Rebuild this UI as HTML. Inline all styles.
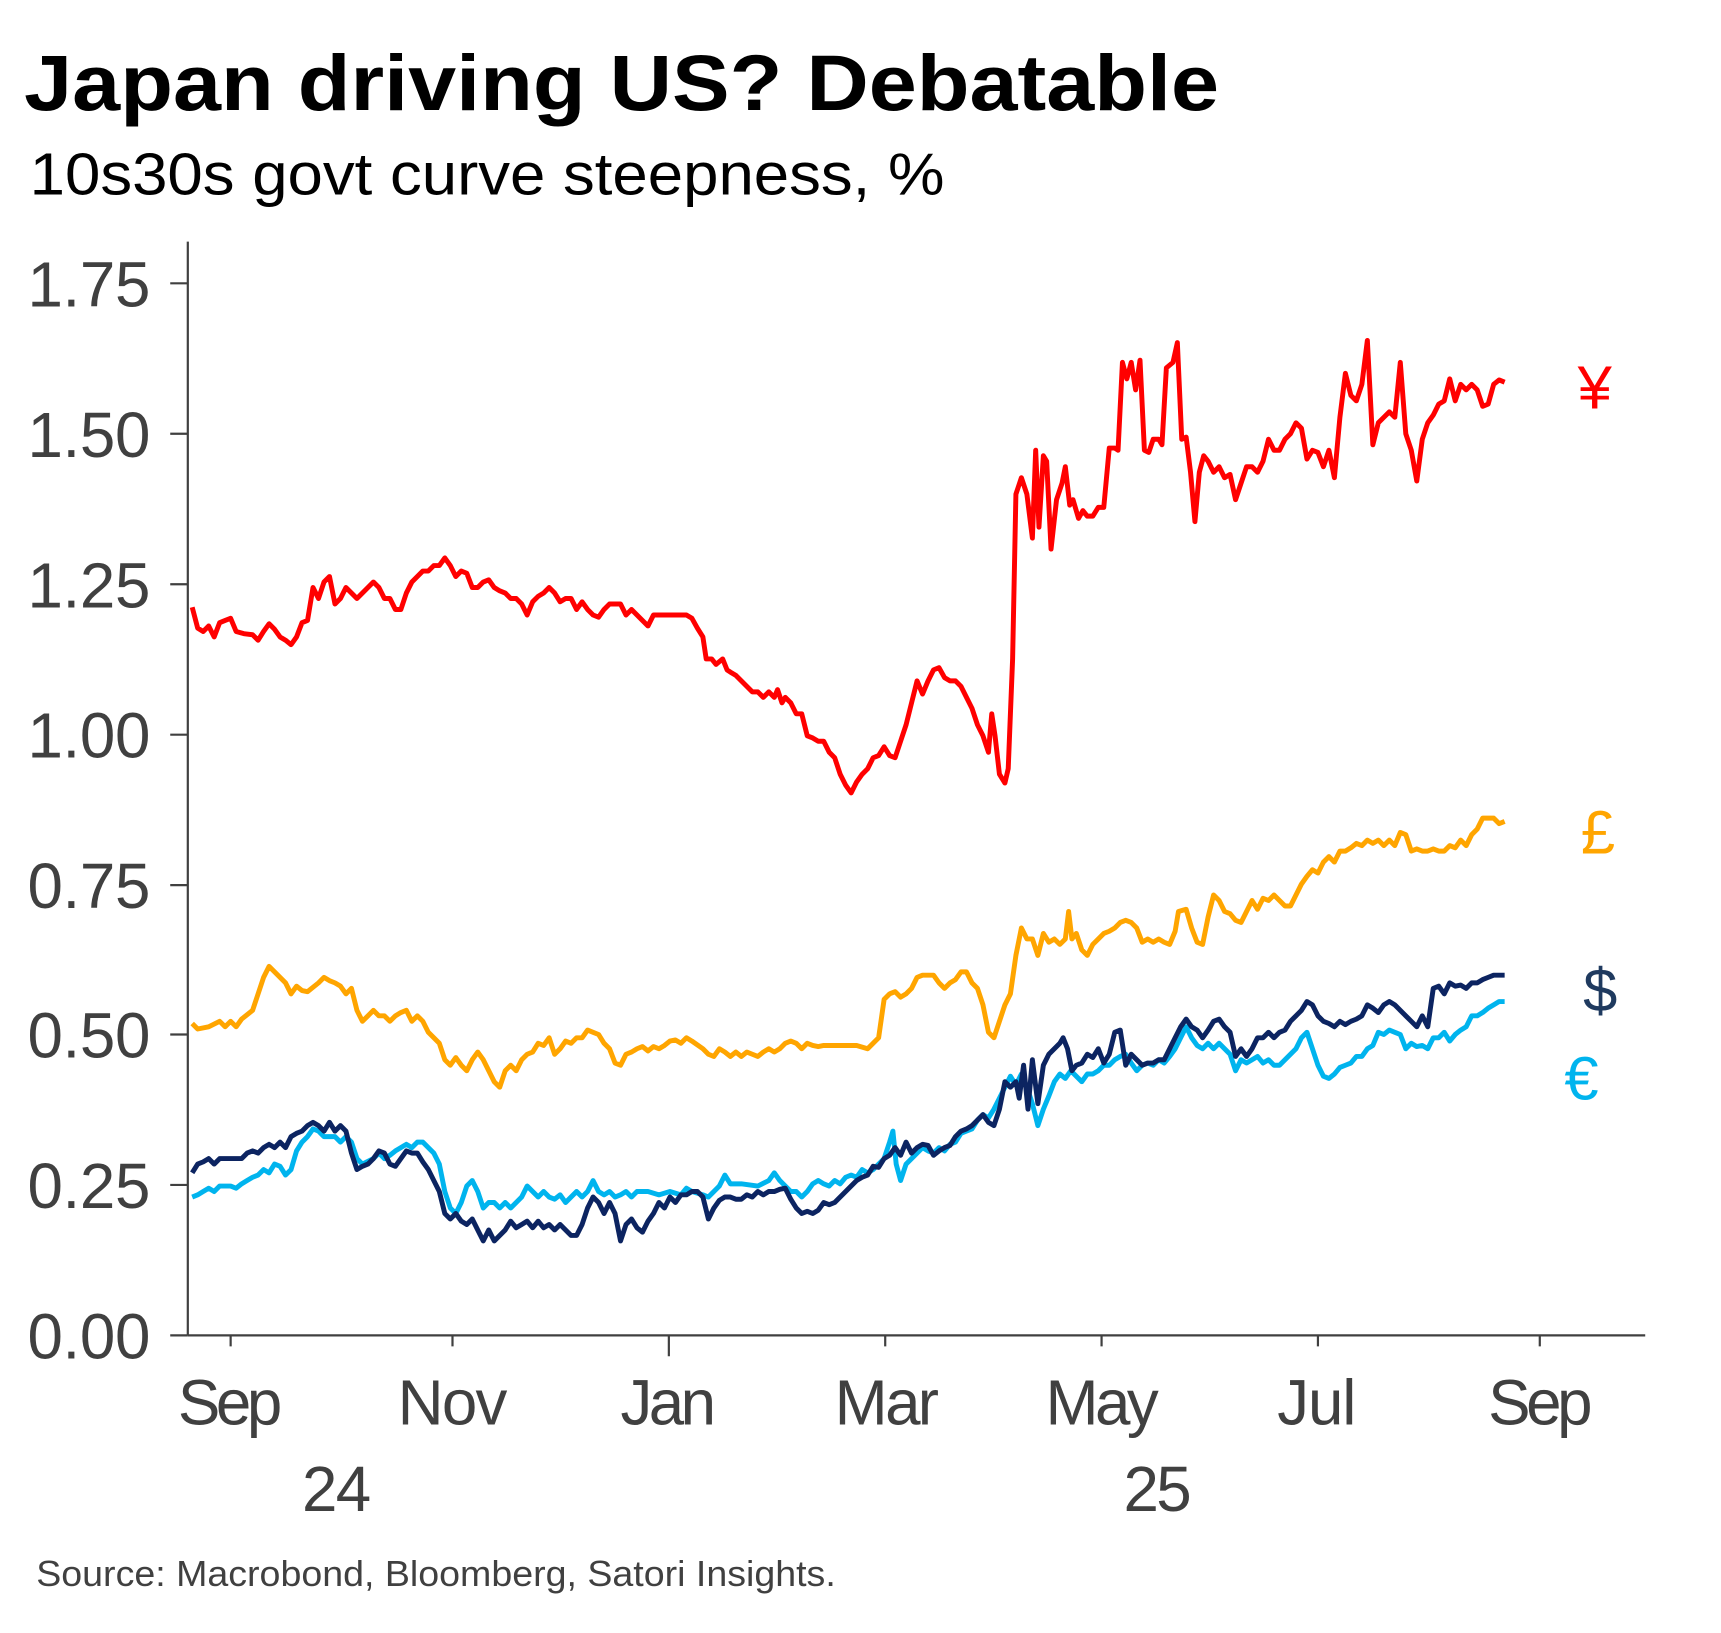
<!DOCTYPE html>
<html><head><meta charset="utf-8"><style>html,body{margin:0;padding:0;background:#fff}svg{display:block}</style></head><body>
<svg width="1721" height="1633" viewBox="0 0 1567 1487" preserveAspectRatio="none" xmlns="http://www.w3.org/2000/svg" font-family="Liberation Sans, DejaVu Sans, sans-serif">
<rect width="1567" height="1487" fill="#fff"/>
<text x="22" y="100" font-size="72" font-weight="bold" fill="#000" textLength="1088" lengthAdjust="spacingAndGlyphs">Japan driving US? Debatable</text>
<text x="27" y="177" font-size="54" fill="#000" textLength="833" lengthAdjust="spacingAndGlyphs">10s30s govt curve steepness, %</text>
<g stroke="#404040" stroke-width="2" fill="none">
<line x1="171" y1="220" x2="171" y2="1216"/>
<line x1="171" y1="1216" x2="1498" y2="1216"/>
<line x1="155" y1="258" x2="171" y2="258"/><line x1="155" y1="395" x2="171" y2="395"/><line x1="155" y1="532" x2="171" y2="532"/><line x1="155" y1="669" x2="171" y2="669"/><line x1="155" y1="806" x2="171" y2="806"/><line x1="155" y1="942" x2="171" y2="942"/><line x1="155" y1="1079" x2="171" y2="1079"/><line x1="155" y1="1216" x2="171" y2="1216"/>
<line x1="210" y1="1216" x2="210" y2="1226"/><line x1="412" y1="1216" x2="412" y2="1226"/><line x1="609" y1="1216" x2="609" y2="1235"/><line x1="806" y1="1216" x2="806" y2="1226"/><line x1="1003" y1="1216" x2="1003" y2="1226"/><line x1="1200" y1="1216" x2="1200" y2="1226"/><line x1="1402" y1="1216" x2="1402" y2="1226"/>
</g>
<g font-size="58" fill="#404040" lengthAdjust="spacingAndGlyphs">
<text x="25" y="279" textLength="112">1.75</text><text x="25" y="416" textLength="112">1.50</text><text x="25" y="553" textLength="112">1.25</text><text x="25" y="690" textLength="112">1.00</text><text x="25" y="827" textLength="112">0.75</text><text x="25" y="963" textLength="112">0.50</text><text x="25" y="1100" textLength="112">0.25</text><text x="25" y="1237" textLength="112">0.00</text>
<text x="162" y="1297" textLength="95">Sep</text><text x="362" y="1297" textLength="100">Nov</text><text x="565" y="1297" textLength="87">Jan</text><text x="760" y="1297" textLength="95">Mar</text><text x="952" y="1297" textLength="103">May</text><text x="1163" y="1297" textLength="72">Jul</text><text x="1355" y="1297" textLength="95">Sep</text>
<text x="275" y="1376" textLength="63">24</text><text x="1023" y="1376" textLength="62">25</text>
</g>
<text x="33" y="1444" font-size="33" fill="#404040" textLength="728" lengthAdjust="spacingAndGlyphs">Source: Macrobond, Bloomberg, Satori Insights.</text>
<g fill="none" stroke-width="4.5" stroke-linejoin="round">
<polyline stroke="#ff0000" points="175,553 180,572 185,575 190,570 195,580 200,567 205,565 210,563 215,575 222,577 230,578 235,583 240,575 245,568 250,573 255,580 260,583 265,587 270,580 275,567 280,565 285,535 290,545 295,530 300,525 305,550 310,545 315,535 320,540 325,545 330,540 335,535 340,530 345,535 350,545 355,545 360,555 365,555 370,540 375,530 380,525 385,520 390,520 395,515 400,515 405,508 410,515 415,525 420,520 425,522 430,535 435,535 440,530 445,528 450,535 455,538 460,540 465,545 470,545 475,550 480,560 485,548 490,543 495,540 500,535 505,540 510,548 515,545 520,545 525,555 530,548 535,555 540,560 545,562 550,555 555,550 560,550 565,550 570,560 575,555 580,560 585,565 590,570 595,560 600,560 610,560 620,560 625,560 630,563 635,572 640,580 643,600 648,600 652,605 658,600 662,610 665,612 670,615 675,620 680,625 685,630 690,630 695,635 700,630 705,635 708,628 712,640 715,635 720,640 725,650 730,650 735,670 740,672 745,675 750,675 755,685 760,690 765,705 770,715 775,722 780,712 785,705 790,700 795,690 800,688 805,680 810,688 815,690 820,675 825,660 830,640 835,620 840,632 845,620 850,610 855,608 860,617 865,620 870,620 875,625 880,635 885,645 890,660 895,670 900,685 903,650 906,670 910,705 915,713 918,700 922,600 925,450 930,435 935,450 940,490 943,410 946,480 950,415 953,420 957,500 962,455 967,440 970,425 974,460 977,455 982,472 986,465 990,470 995,470 1000,462 1005,462 1010,408 1015,408 1018,410 1022,330 1026,345 1030,330 1034,355 1038,328 1042,410 1046,412 1050,400 1055,400 1058,405 1062,335 1068,330 1072,312 1076,400 1080,398 1084,430 1088,475 1092,430 1096,415 1100,420 1105,430 1110,425 1115,435 1120,432 1125,455 1130,440 1135,425 1140,425 1145,430 1150,420 1155,400 1160,410 1165,410 1170,400 1175,395 1180,385 1185,390 1190,418 1195,410 1200,412 1205,425 1210,410 1215,435 1220,380 1225,340 1230,360 1235,365 1240,350 1245,310 1250,405 1255,385 1260,380 1265,375 1270,380 1275,330 1280,395 1285,410 1290,438 1295,400 1300,385 1305,378 1310,368 1315,365 1320,345 1325,365 1330,350 1335,355 1340,350 1345,355 1350,370 1355,368 1360,350 1365,346 1370,348"/>
<polyline stroke="#ffa500" points="175,932 180,937 190,935 200,930 205,935 210,930 215,935 220,928 230,920 235,905 240,890 245,880 250,885 255,890 260,895 265,905 270,898 275,902 280,903 290,895 295,890 300,893 305,895 310,898 315,905 320,900 325,920 330,930 335,925 340,920 345,925 350,925 355,930 360,925 365,922 370,920 375,930 380,925 385,930 390,940 395,945 400,950 405,965 410,970 415,963 420,970 425,975 430,965 435,958 440,965 445,975 450,985 455,990 460,975 465,970 470,975 475,965 480,960 485,958 490,950 495,952 500,945 505,960 510,955 515,948 520,950 525,945 530,945 535,938 540,940 545,942 550,950 555,955 560,968 565,970 570,960 575,958 580,955 585,953 590,957 595,953 600,955 605,952 610,948 615,947 620,950 625,945 630,948 640,955 645,960 650,962 655,955 660,958 665,962 670,958 675,962 680,958 685,960 690,962 695,958 700,955 705,958 710,955 715,950 720,948 725,950 730,955 735,950 740,952 745,953 750,952 760,952 770,952 780,952 790,955 795,950 800,945 805,910 810,905 815,903 820,908 825,905 830,900 835,890 840,888 845,888 850,888 855,895 860,900 865,895 870,892 875,885 880,885 885,895 890,900 895,915 900,940 905,945 910,930 915,915 920,905 925,870 930,845 935,855 940,855 945,870 950,850 955,858 960,855 965,860 970,855 973,830 976,855 980,850 985,865 990,870 995,860 1000,855 1005,850 1010,848 1015,845 1020,840 1025,838 1030,840 1035,845 1040,858 1045,855 1050,858 1055,855 1060,858 1065,860 1070,848 1073,830 1080,828 1085,845 1090,858 1095,860 1100,835 1105,815 1110,820 1115,830 1120,832 1125,838 1130,840 1135,830 1140,820 1145,828 1150,818 1155,820 1160,815 1165,820 1170,825 1175,825 1180,815 1185,805 1190,798 1195,792 1200,795 1205,785 1210,780 1215,785 1220,775 1225,775 1230,772 1235,768 1240,770 1245,765 1250,768 1255,765 1260,770 1265,765 1270,770 1275,758 1280,760 1285,775 1290,773 1295,775 1300,775 1305,773 1310,775 1315,775 1320,770 1325,772 1330,765 1335,770 1340,760 1345,755 1350,745 1355,745 1360,745 1365,750 1370,748"/>
<polyline stroke="#00b4ee" points="175,1090 180,1088 185,1085 190,1082 195,1085 200,1080 210,1080 215,1082 220,1078 225,1075 230,1072 235,1070 240,1065 245,1068 250,1060 255,1062 260,1070 265,1065 270,1048 275,1040 280,1035 285,1028 290,1030 295,1035 300,1035 305,1035 310,1040 315,1035 320,1040 325,1055 330,1060 340,1055 345,1050 350,1055 355,1052 360,1048 365,1045 370,1042 375,1045 380,1040 385,1040 390,1045 395,1050 400,1060 405,1085 410,1100 415,1105 420,1095 425,1080 430,1075 435,1085 440,1100 445,1095 450,1095 455,1100 460,1095 465,1100 470,1095 475,1090 480,1080 485,1085 490,1090 495,1085 500,1090 505,1092 510,1088 515,1095 520,1090 525,1085 530,1090 535,1085 540,1075 545,1085 550,1088 555,1085 560,1090 565,1088 570,1085 575,1090 580,1085 590,1085 600,1088 610,1085 620,1088 625,1082 630,1085 640,1088 645,1090 650,1085 655,1080 660,1070 665,1078 675,1078 690,1080 700,1075 705,1068 710,1075 715,1080 720,1085 725,1085 730,1090 735,1085 740,1078 745,1075 750,1078 755,1080 760,1075 765,1078 770,1072 775,1070 780,1072 785,1065 790,1068 795,1065 800,1060 805,1055 810,1040 813,1030 816,1060 820,1075 825,1060 830,1055 835,1050 840,1045 845,1048 850,1050 855,1045 860,1048 865,1042 870,1040 875,1032 880,1030 885,1028 890,1020 895,1015 900,1018 905,1010 910,1000 915,990 920,980 925,988 930,978 935,990 940,1005 945,1025 950,1010 955,998 960,985 965,978 970,982 975,975 980,980 985,985 990,978 995,978 1000,975 1005,970 1010,970 1015,965 1020,962 1025,960 1030,968 1035,975 1040,970 1045,968 1050,970 1055,965 1060,968 1065,962 1070,955 1075,945 1080,935 1085,945 1090,952 1095,955 1100,950 1105,955 1110,950 1115,955 1120,960 1125,975 1130,965 1135,968 1140,965 1145,962 1150,968 1155,965 1160,970 1165,970 1170,965 1175,960 1180,955 1185,945 1190,940 1195,955 1200,970 1205,980 1210,982 1215,978 1220,972 1225,970 1230,968 1235,962 1240,962 1245,955 1250,952 1255,940 1260,942 1265,938 1270,940 1275,942 1280,955 1285,950 1290,953 1295,952 1300,955 1305,945 1310,945 1315,940 1320,948 1325,942 1330,938 1335,935 1340,925 1345,925 1350,922 1355,918 1360,915 1365,912 1370,912"/>
<polyline stroke="#0c2461" points="175,1068 180,1060 185,1058 190,1055 195,1060 200,1055 210,1055 220,1055 225,1050 230,1048 235,1050 240,1045 245,1042 250,1045 255,1040 260,1045 265,1035 270,1032 275,1030 280,1025 285,1022 290,1025 295,1030 300,1022 305,1030 310,1025 315,1030 320,1050 325,1065 330,1062 335,1060 340,1055 345,1048 350,1050 355,1060 360,1062 365,1055 370,1048 375,1050 380,1050 385,1058 390,1065 395,1075 400,1085 405,1105 410,1110 415,1105 420,1112 425,1115 430,1110 435,1120 440,1130 445,1120 450,1130 455,1125 460,1120 465,1112 470,1118 475,1115 480,1112 485,1118 490,1112 495,1118 500,1115 505,1120 510,1115 515,1120 520,1125 525,1125 530,1115 535,1100 540,1090 545,1095 550,1105 555,1095 560,1105 565,1130 570,1115 575,1110 580,1118 585,1122 590,1112 595,1105 600,1095 605,1100 610,1090 615,1095 620,1088 625,1088 630,1085 635,1085 640,1090 645,1110 650,1100 655,1093 660,1090 665,1090 670,1092 675,1092 680,1088 685,1090 690,1085 695,1088 700,1085 705,1085 710,1083 715,1082 720,1092 725,1100 730,1105 735,1103 740,1105 745,1102 750,1095 755,1097 760,1095 765,1090 770,1085 775,1080 780,1075 785,1072 790,1070 795,1062 800,1063 805,1055 810,1052 815,1045 820,1052 825,1040 830,1050 835,1045 840,1042 845,1043 850,1052 855,1048 860,1045 865,1043 870,1035 875,1030 880,1028 885,1025 890,1020 895,1015 900,1022 905,1025 910,1010 915,985 920,990 925,985 928,1000 932,970 936,1010 940,965 945,1005 950,970 955,960 960,955 965,950 968,945 972,955 976,975 980,970 985,968 990,960 995,963 1000,955 1005,968 1010,960 1015,940 1020,938 1025,970 1030,960 1035,965 1040,970 1045,968 1050,968 1055,965 1060,965 1065,955 1070,945 1075,935 1080,928 1085,935 1090,938 1095,945 1100,938 1105,930 1110,928 1115,935 1120,940 1125,962 1130,955 1135,962 1140,955 1145,945 1150,945 1155,940 1160,945 1165,940 1170,938 1175,930 1180,925 1185,920 1190,912 1195,915 1200,925 1205,930 1210,932 1215,935 1220,930 1225,933 1230,930 1235,928 1240,925 1245,915 1250,918 1255,922 1260,915 1265,912 1270,915 1275,920 1280,925 1285,930 1290,935 1295,925 1300,935 1305,900 1310,898 1315,905 1320,895 1325,898 1330,897 1335,900 1340,895 1345,895 1350,892 1355,890 1360,888 1365,888 1370,888"/>
</g>
<g font-size="56" text-anchor="middle">
<text x="1452" y="372" fill="#ff0000">¥</text>
<text x="1455" y="777" fill="#ffa500">£</text>
<text x="1457" y="921" fill="#1f3a5f">$</text>
<text x="1440" y="1001" fill="#00b4ee">€</text>
</g>
</svg>
</body></html>
